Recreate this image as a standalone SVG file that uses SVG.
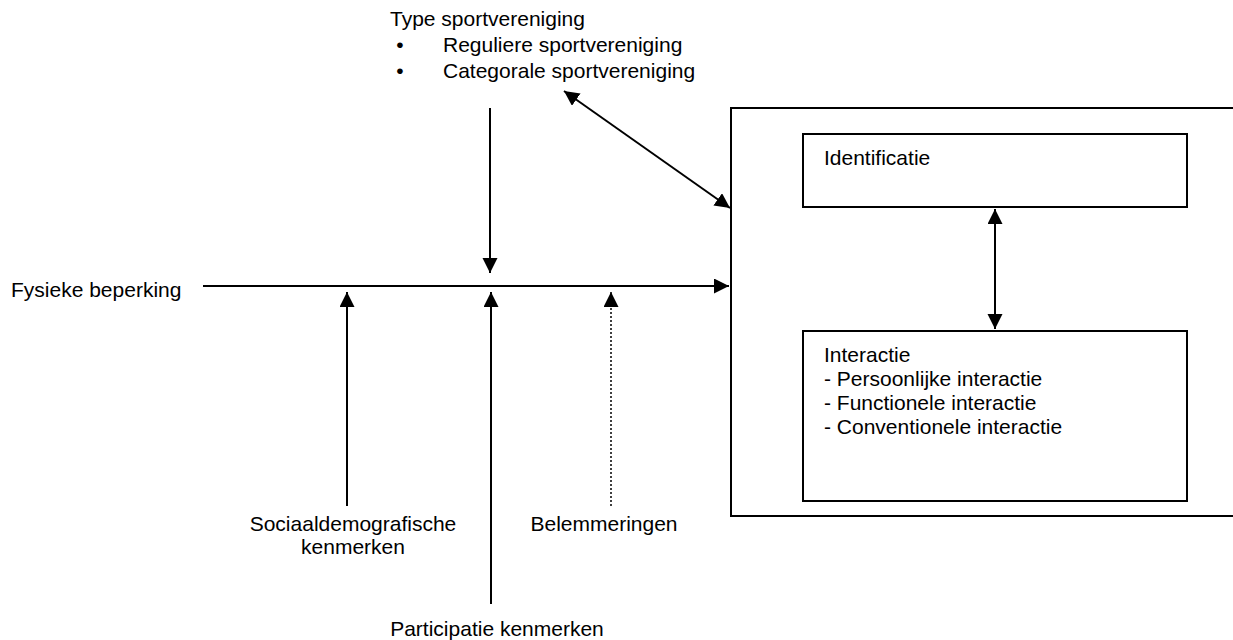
<svg xmlns="http://www.w3.org/2000/svg" width="1233" height="640" viewBox="0 0 1233 640">
<style>
text{font-family:"Liberation Sans",Arial,sans-serif;font-size:21px;fill:#000}
.ln{stroke:#000;stroke-width:2;fill:none}
.box{stroke:#000;stroke-width:2;fill:#fff}
.dot{stroke:#000;stroke-width:1.5;fill:none;stroke-dasharray:2 2}
</style>
<defs>
<marker id="ah" markerUnits="userSpaceOnUse" markerWidth="16" markerHeight="16" refX="15" refY="7.5" orient="auto-start-reverse" viewBox="0 0 16 16">
<path d="M0,0 L15,7.5 L0,15 z" fill="#000"/>
</marker>
</defs>
<rect width="1233" height="640" fill="#fff"/>
<g id="context">
<path class="ln" d="M1233,108 H731 V516 H1233"/>
</g>
<g id="identificatie">
<rect class="box" x="803" y="134" width="384" height="73"/>
<text x="824" y="165">Identificatie</text>
</g>
<g id="interactie">
<rect class="box" x="803" y="331" width="384" height="170"/>
<text x="824" y="362">Interactie</text>
<text x="824" y="386">- Persoonlijke interactie</text>
<text x="824" y="410">- Functionele interactie</text>
<text x="824" y="434">- Conventionele interactie</text>
</g>
<g id="type">
<text x="390" y="26">Type sportvereniging</text>
<text x="400" y="52" text-anchor="middle">•</text>
<text x="443" y="52">Reguliere sportvereniging</text>
<text x="400" y="78" text-anchor="middle">•</text>
<text x="443" y="78">Categorale sportvereniging</text>
</g>
<g id="fysiek">
<text x="11" y="297">Fysieke beperking</text>
</g>
<g id="sociaal">
<text x="353" y="531" text-anchor="middle">Sociaaldemografische</text>
<text x="353" y="554" text-anchor="middle">kenmerken</text>
</g>
<g id="belemmeringen">
<text x="604" y="531" text-anchor="middle">Belemmeringen</text>
</g>
<g id="participatie">
<text x="497" y="636" text-anchor="middle">Participatie kenmerken</text>
</g>
<g id="connectors">
<line class="ln" x1="203" y1="286" x2="729" y2="286" marker-end="url(#ah)"/>
<line class="ln" x1="490" y1="108" x2="490" y2="273" marker-end="url(#ah)"/>
<line class="ln" x1="347" y1="506" x2="347" y2="292" marker-end="url(#ah)"/>
<line class="ln" x1="491" y1="604" x2="491" y2="292" marker-end="url(#ah)"/>
<line class="dot" x1="611" y1="506" x2="611" y2="292" marker-end="url(#ah)"/>
<line class="ln" x1="564" y1="91" x2="730" y2="208" marker-start="url(#ah)" marker-end="url(#ah)"/>
<line class="ln" x1="995" y1="209" x2="995" y2="329" marker-start="url(#ah)" marker-end="url(#ah)"/>
</g>
</svg>
